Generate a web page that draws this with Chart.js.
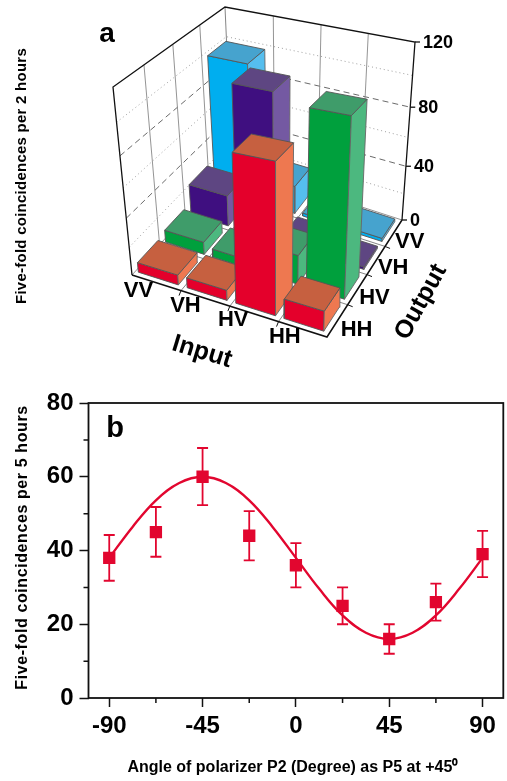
<!DOCTYPE html>
<html><head><meta charset="utf-8">
<script src="https://cdn.jsdelivr.net/npm/chart.js@4"></script>
<style>html,body{margin:0;padding:0;background:#fff;overflow:hidden;width:507px;height:781px}canvas{position:absolute;left:0}#a{top:0}#b{top:380px}</style>
</head><body>
<canvas id="a" width="507" height="380"></canvas>
<canvas id="b" width="512" height="401"></canvas>
<script>
// ---------- panel a data ----------
const inputLabels = ['VV','VH','HV','HH'];
const outputLabels = ['VV','VH','HV','HH'];
const zTicks = [0,40,80,120];
const zGrid = [20,40,60,80,100];
const outVV = [99,21,2.3,2.3];
const outVH = [23,101,4.6,1.7];
const outHV = [9,6,20,111];
const outHH = [7,7,94,13];
// ---------- panel b data ----------
const angles = [-90,-67.5,-45,-22.5,0,22.5,45,67.5,90];
const counts = [38,45,60,44,36,25,16,26,39];
const errHigh = [44.2,51.8,67.8,50.7,42,30,20,31,45.3];
const errLow = [31.8,38.3,52.3,37.3,30,20,12,21,32.8];
const fitAngles = [-90,-78.75,-67.5,-56.25,-45,-33.75,-22.5,-11.25,0,11.25,22.5,33.75,45,56.25,67.5,78.75,90];
const fitCounts = [38,46.4,53.6,58.3,60,58.3,53.6,46.4,38,29.6,22.4,17.7,16,17.7,22.4,29.6,38];
const xMajor = [-90,-45,0,45,90];
const xMinor = [-67.5,-22.5,22.5,67.5];
const yMajor = [0,20,40,60,80];
const yMinor = [10,30,50,70];

// ---------- panel a projection ----------
function homog(p0,p1,p2,p3){
  const dx1=p1[0]-p2[0],dx2=p3[0]-p2[0],sx=p0[0]-p1[0]+p2[0]-p3[0];
  const dy1=p1[1]-p2[1],dy2=p3[1]-p2[1],sy=p0[1]-p1[1]+p2[1]-p3[1];
  const den=dx1*dy2-dx2*dy1, g=(sx*dy2-dx2*sy)/den, h=(dx1*sy-sx*dy1)/den;
  const a=p1[0]-p0[0]+g*p1[0], b=p3[0]-p0[0]+h*p3[0], c=p0[0];
  const d=p1[1]-p0[1]+g*p1[1], e=p3[1]-p0[1]+h*p3[1], f=p0[1];
  return (u,v)=>{const w=g*u+h*v+1;return [(a*u+b*v+c)/w,(d*u+e*v+f)/w];};
}
const floorMap = homog([132,275],[327,337],[402,220],[232,165]);
const topMap = homog([113,87],[333,125],[415,42],[225,7]);
const zMax = 120, zPersp = 1.156;
function P(u,v,z){
  const f=floorMap(u,v),t=topMap(u,v),q=z/zMax,k=q/(zPersp+(1-zPersp)*q);
  return {x:f[0]+(t[0]-f[0])*k,y:f[1]+(t[1]-f[1])*k};
}
const rows = [
 {vals:outVV,k:3,front:'#00AEEF',top:'#46A3CE',side:'#55BEEE'},
 {vals:outVH,k:2,front:'#3F0F80',top:'#5E4682',side:'#7459A2'},
 {vals:outHV,k:1,front:'#00A03D',top:'#3F9C6A',side:'#4CB87F'},
 {vals:outHH,k:0,front:'#E4002B',top:'#C66040',side:'#EE7850'}
];
const ds=[];
function line(pts,color,width,dash){
  ds.push({data:pts,borderColor:color,borderWidth:width,borderDash:dash||[],pointRadius:0,fill:false,tension:0,clip:false});
}
function poly(pts,fill,edge){
  ds.push({data:[...pts,pts[0]],borderColor:edge,borderWidth:0.9,backgroundColor:fill,pointRadius:0,fill:'shape',tension:0,clip:false});
}
// walls and floor
for(const z of zGrid){
  const dash = z%40===0?[6,4]:[1,3];
  const c = z%40===0?'#444':'#888';
  line([P(0,0,z),P(0,1,z),P(1,1,z)],c,0.8,dash);
}
for(let i=1;i<4;i++){
  line([P(0,i/4,0),P(0,i/4,zMax)],'#888',0.9);
  line([P(i/4,1,0),P(i/4,1,zMax)],'#888',0.9);
  line([P(i/4,0,0),P(i/4,1,0)],'#666',0.8);
  line([P(0,i/4,0),P(1,i/4,0)],'#666',0.8);
}
line([P(0,0,0),P(0,1,0),P(1,1,0)],'#888',0.9);
line([P(0,1,0),P(0,1,zMax)],'#777',0.9);
line([P(0,0,0),P(0,0,zMax),P(0,1,zMax),P(1,1,zMax),P(1,1,0)],'#111',1.3);
// bars, back to front, left to right
const UM0=0.015,UM1=0.22,VM0=0.03,VM1=0.215;
for(const r of rows){
  r.vals.forEach((h,i)=>{
    const u0=i/4+UM0,u1=i/4+UM1,v0=r.k/4+VM0,v1=r.k/4+VM1;
    poly([P(u0,v0,0),P(u1,v0,0),P(u1,v0,h),P(u0,v0,h)],r.front,'#555');
    poly([P(u1,v0,0),P(u1,v1,0),P(u1,v1,h),P(u1,v0,h)],r.side,'#666');
    poly([P(u0,v0,h),P(u1,v0,h),P(u1,v1,h),P(u0,v1,h)],r.top,'#555');
  });
}
line([P(1,1,0),P(1,0,0),P(0,0,0)],'#111',1.5);
for(let i=1;i<4;i++){
  const a=P(i/4,0,0);line([a,{x:a.x-2,y:a.y+5}],'#111',1);
  const b=P(1,i/4,0);line([b,{x:b.x+5,y:b.y+2}],'#111',1);
}
for(const z of zTicks){const a=P(1,1,z);line([a,{x:a.x+5,y:a.y}],'#111',1.3);}
ds.forEach((d,i)=>{d.order=ds.length-i;});

function text(ctx,s,x,y,font,rot,align,spacing){
  ctx.save();ctx.translate(x,y);ctx.rotate((rot||0)*Math.PI/180);
  ctx.font=font;ctx.fillStyle='#000';ctx.textAlign=align||'center';ctx.textBaseline='middle';
  ctx.letterSpacing=spacing||'0px';
  ctx.fillText(s,0,0);ctx.restore();
}
const F='"Liberation Sans",Arial,sans-serif';
const catOffsetsIn=[[-18,8],[-20,8],[-21,6],[-18,8]];
const catOffsetsOut=[[16,9],[17,8],[17,9],[19,9]];
const annotateA={id:'annotateA',afterDraw(c){
  const x=c.ctx;
  inputLabels.forEach((s,i)=>{const p=P((i+.5)/4,0,0),o=catOffsetsIn[i];text(x,s,p.x+o[0],p.y+o[1],'bold 22px '+F);});
  outputLabels.forEach((s,i)=>{const p=P(1,(3-i+.5)/4,0),o=catOffsetsOut[i];text(x,s,p.x+o[0],p.y+o[1],'bold 22px '+F);});
  zTicks.forEach(z=>{const p=P(1,1,z);text(x,String(z),p.x+8,p.y+1,'bold 18px '+F,0,'left');});
  text(x,'Input',202,352,'bold 25px '+F,17);
  text(x,'Output',421,302,'bold 25px '+F,-61);
  text(x,'a',107,34,'bold 28px '+F);
  text(x,'Five-fold coincidences per 2 hours',22,176,'bold 15px '+F,-90,'center','0.25px');
}};
new Chart(document.getElementById('a'),{
  type:'line',data:{datasets:ds},plugins:[annotateA],
  options:{responsive:false,animation:false,events:[],layout:{padding:0},
    plugins:{legend:{display:false},tooltip:{enabled:false}},
    scales:{x:{type:'linear',display:false,min:0,max:507},y:{type:'linear',display:false,min:0,max:380,reverse:true}}}
});

// ---------- panel b ----------
const RED='#E2062F';
const zip=(a,b)=>a.map((v,i)=>({x:v,y:b[i]}));
const errData=[];angles.forEach((a,i)=>{errData.push({x:a,y:errLow[i]},{x:a,y:errHigh[i]},{x:a,y:NaN});});
const INK='#111';
const annotateB={id:'annotateB',afterDraw(c){
  const x=c.ctx,A=c.chartArea,sx=c.scales.x,sy=c.scales.y;
  x.save();x.strokeStyle=INK;x.lineWidth=1.8;x.strokeRect(A.left,A.top,A.right-A.left,A.bottom-A.top);
  x.lineWidth=1.5;x.beginPath();
  xMinor.forEach(v=>{const p=sx.getPixelForValue(v);x.moveTo(p,A.bottom);x.lineTo(p,A.bottom+5);});
  yMinor.forEach(v=>{const p=sy.getPixelForValue(v);x.moveTo(A.left,p);x.lineTo(A.left-5,p);});
  x.stroke();x.restore();
  text(x,'b',115,49,'bold 29px '+F);
}};
new Chart(document.getElementById('b'),{
  type:'line',
  data:{datasets:[
    {label:'Data',data:zip(angles,counts),showLine:false,pointStyle:'rect',pointRadius:8.7,pointBackgroundColor:RED,pointBorderColor:RED,pointBorderWidth:0,order:1},
    {label:'Error',data:errData,borderColor:RED,borderWidth:1.8,pointStyle:'line',pointRadius:5.5,pointBorderColor:RED,pointBorderWidth:1.8,spanGaps:false,tension:0,order:2},
    {label:'Fit',data:zip(fitAngles,fitCounts),borderColor:RED,borderWidth:2.4,pointRadius:0,tension:0.4,order:3}
  ]},
  plugins:[annotateB],
  options:{responsive:false,animation:false,events:[],
    layout:{padding:{top:23,right:0,left:0,bottom:0}},
    plugins:{legend:{display:false},tooltip:{enabled:false}},
    scales:{
      x:{type:'linear',min:-100,max:100,
        afterBuildTicks(s){s.ticks=xMajor.map(v=>({value:v}));},
        afterFit(s){
          s.height=83;
          if(!s._shifted){
            s._shifted=true;
            const base=s.drawTitle;
            s.drawTitle=function(...a){
              const t=this.ctx;t.save();t.translate(-3,0);base.apply(this,a);t.restore();
            };
          }
        },
        border:{display:false},
        grid:{drawOnChartArea:false,tickLength:9,tickColor:INK,tickWidth:1.5},
        ticks:{autoSkip:false,maxRotation:0,padding:5,color:'#000',font:{family:F,size:24,weight:'bold'}},
        title:{display:true,text:'Angle of polarizer P2 (Degree) as P5 at +45⁰',color:'#000',font:{family:F,size:16,weight:'bold'},padding:{top:0,bottom:4}}
      },
      y:{type:'linear',min:0,max:80,
        afterBuildTicks(s){s.ticks=yMajor.map(v=>({value:v}));},
        afterFit(s){
          s.width=88.5;
          if(!s._spaced){
            s._spaced=true;
            const base=s.drawTitle;
            s.drawTitle=function(...a){
              const t=this.ctx;t.save();t.letterSpacing='0.6px';t.translate(0,-3);
              base.apply(this,a);t.restore();
            };
          }
        },
        border:{display:false},
        grid:{drawOnChartArea:false,tickLength:9,tickColor:INK,tickWidth:1.5},
        ticks:{padding:6,color:'#000',font:{family:F,size:24,weight:'bold'}},
        title:{display:true,text:'Five-fold coincidences per 5 hours',color:'#000',font:{family:F,size:16,weight:'bold'},padding:{top:13,bottom:0}}
      }
    }}
});
</script>
</body></html>
